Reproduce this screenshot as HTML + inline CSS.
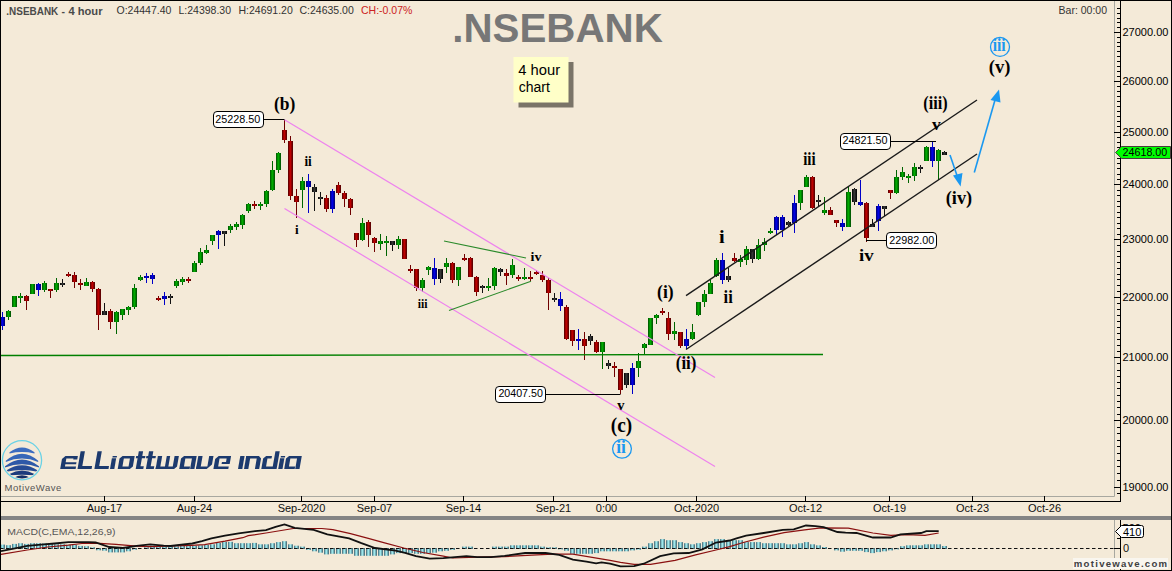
<!DOCTYPE html><html><head><meta charset="utf-8"><title>NSEBANK</title><style>
html,body{margin:0;padding:0;width:1172px;height:571px;overflow:hidden;background:#F4EAD8;}
svg{position:absolute;left:0;top:0;}
text{font-family:"Liberation Sans",sans-serif;}
.sf{font-family:"Liberation Serif",serif;font-weight:bold;}
</style></head><body>
<svg width="1172" height="571" viewBox="0 0 1172 571">
<defs>
<linearGradient id="grg" x1="0" x2="1" y1="0" y2="0"><stop offset="0" stop-color="#004a00"/><stop offset="0.45" stop-color="#00b400"/><stop offset="1" stop-color="#004a00"/></linearGradient>
<linearGradient id="grr" x1="0" x2="1" y1="0" y2="0"><stop offset="0" stop-color="#4a0000"/><stop offset="0.45" stop-color="#c80000"/><stop offset="1" stop-color="#4a0000"/></linearGradient>
<linearGradient id="grb" x1="0" x2="1" y1="0" y2="0"><stop offset="0" stop-color="#00006a"/><stop offset="0.45" stop-color="#0000f0"/><stop offset="1" stop-color="#00006a"/></linearGradient>
<linearGradient id="grk" x1="0" x2="1" y1="0" y2="0"><stop offset="0" stop-color="#000000"/><stop offset="0.45" stop-color="#3a3a3a"/><stop offset="1" stop-color="#000000"/></linearGradient>
<linearGradient id="grh" x1="0" x2="1" y1="0" y2="0"><stop offset="0" stop-color="#3e5f6c"/><stop offset="0.45" stop-color="#a6f6fa"/><stop offset="1" stop-color="#3e5f6c"/></linearGradient>
</defs>
<rect x="0" y="0" width="1172" height="571" fill="#F4EAD8"/>
<line x1="2.5" y1="312" x2="2.5" y2="330" stroke="#0000c8" stroke-width="1"/>
<rect x="0" y="317" width="5" height="9" fill="url(#grb)"/>
<line x1="8.5" y1="310" x2="8.5" y2="320" stroke="#006400" stroke-width="1"/>
<rect x="6" y="311" width="5" height="6" fill="url(#grg)"/>
<line x1="14.5" y1="296" x2="14.5" y2="307" stroke="#006400" stroke-width="1"/>
<rect x="12" y="296" width="5" height="11" fill="url(#grg)"/>
<line x1="20.5" y1="293" x2="20.5" y2="303" stroke="#006400" stroke-width="1"/>
<rect x="18" y="296" width="5" height="2" fill="url(#grg)"/>
<line x1="26.5" y1="295" x2="26.5" y2="310" stroke="#6e0000" stroke-width="1"/>
<rect x="24" y="296" width="5" height="5" fill="url(#grr)"/>
<line x1="32.5" y1="284" x2="32.5" y2="294" stroke="#006400" stroke-width="1"/>
<rect x="30" y="284" width="5" height="10" fill="url(#grg)"/>
<line x1="38.5" y1="283" x2="38.5" y2="296" stroke="#0000c8" stroke-width="1"/>
<rect x="36" y="284" width="5" height="6" fill="url(#grb)"/>
<line x1="44.5" y1="281" x2="44.5" y2="292" stroke="#006400" stroke-width="1"/>
<rect x="42" y="283" width="5" height="7" fill="url(#grg)"/>
<line x1="50.5" y1="289" x2="50.5" y2="298" stroke="#6e0000" stroke-width="1"/>
<rect x="48" y="289" width="5" height="2" fill="url(#grr)"/>
<line x1="56.5" y1="278" x2="56.5" y2="292" stroke="#006400" stroke-width="1"/>
<rect x="54" y="283" width="5" height="7" fill="url(#grg)"/>
<line x1="62.5" y1="279" x2="62.5" y2="287" stroke="#111111" stroke-width="1"/>
<rect x="60" y="283" width="5" height="2" fill="url(#grk)"/>
<line x1="68.5" y1="272" x2="68.5" y2="277" stroke="#6e0000" stroke-width="1"/>
<rect x="66" y="274" width="5" height="2" fill="url(#grr)"/>
<line x1="74.5" y1="272" x2="74.5" y2="288" stroke="#6e0000" stroke-width="1"/>
<rect x="72" y="275" width="5" height="7" fill="url(#grr)"/>
<line x1="80.5" y1="279" x2="80.5" y2="290" stroke="#6e0000" stroke-width="1"/>
<rect x="78" y="283" width="5" height="2" fill="url(#grr)"/>
<line x1="86.5" y1="278" x2="86.5" y2="286" stroke="#006400" stroke-width="1"/>
<rect x="84" y="282" width="5" height="4" fill="url(#grg)"/>
<line x1="92.5" y1="281" x2="92.5" y2="292" stroke="#6e0000" stroke-width="1"/>
<rect x="90" y="282" width="5" height="7" fill="url(#grr)"/>
<line x1="98.5" y1="288" x2="98.5" y2="330" stroke="#6e0000" stroke-width="1"/>
<rect x="96" y="289" width="5" height="26" fill="url(#grr)"/>
<line x1="104.5" y1="303" x2="104.5" y2="315" stroke="#111111" stroke-width="1"/>
<rect x="102" y="311" width="5" height="4" fill="url(#grk)"/>
<line x1="110.5" y1="309" x2="110.5" y2="329" stroke="#6e0000" stroke-width="1"/>
<rect x="108" y="311" width="5" height="11" fill="url(#grr)"/>
<line x1="116.5" y1="311" x2="116.5" y2="334" stroke="#006400" stroke-width="1"/>
<rect x="114" y="312" width="5" height="10" fill="url(#grg)"/>
<line x1="122.5" y1="309" x2="122.5" y2="320" stroke="#006400" stroke-width="1"/>
<rect x="120" y="309" width="5" height="6" fill="url(#grg)"/>
<line x1="128.5" y1="306" x2="128.5" y2="315" stroke="#006400" stroke-width="1"/>
<rect x="126" y="307" width="5" height="3" fill="url(#grg)"/>
<line x1="134.5" y1="284" x2="134.5" y2="309" stroke="#006400" stroke-width="1"/>
<rect x="132" y="288" width="5" height="19" fill="url(#grg)"/>
<line x1="140.5" y1="275" x2="140.5" y2="281" stroke="#006400" stroke-width="1"/>
<rect x="138" y="277" width="5" height="3" fill="url(#grg)"/>
<line x1="146.5" y1="273" x2="146.5" y2="283" stroke="#0000c8" stroke-width="1"/>
<rect x="144" y="276" width="5" height="2" fill="url(#grb)"/>
<line x1="152.5" y1="273" x2="152.5" y2="284" stroke="#0000c8" stroke-width="1"/>
<rect x="150" y="275" width="5" height="4" fill="url(#grb)"/>
<line x1="158.5" y1="296" x2="158.5" y2="301" stroke="#6e0000" stroke-width="1"/>
<rect x="156" y="298" width="5" height="2" fill="url(#grr)"/>
<line x1="164.5" y1="292" x2="164.5" y2="305" stroke="#0000c8" stroke-width="1"/>
<rect x="162" y="296" width="5" height="3" fill="url(#grb)"/>
<line x1="170.5" y1="294" x2="170.5" y2="304" stroke="#111111" stroke-width="1"/>
<rect x="168" y="296" width="5" height="2" fill="url(#grk)"/>
<line x1="176.5" y1="279" x2="176.5" y2="288" stroke="#006400" stroke-width="1"/>
<rect x="174" y="281" width="5" height="5" fill="url(#grg)"/>
<line x1="182.5" y1="277" x2="182.5" y2="285" stroke="#006400" stroke-width="1"/>
<rect x="180" y="279" width="5" height="3" fill="url(#grg)"/>
<line x1="188.5" y1="277" x2="188.5" y2="283" stroke="#6e0000" stroke-width="1"/>
<rect x="186" y="279" width="5" height="2" fill="url(#grr)"/>
<line x1="194.5" y1="261" x2="194.5" y2="272" stroke="#006400" stroke-width="1"/>
<rect x="192" y="263" width="5" height="9" fill="url(#grg)"/>
<line x1="200.5" y1="248" x2="200.5" y2="265" stroke="#006400" stroke-width="1"/>
<rect x="198" y="252" width="5" height="11" fill="url(#grg)"/>
<line x1="206.5" y1="245" x2="206.5" y2="254" stroke="#006400" stroke-width="1"/>
<rect x="204" y="250" width="5" height="3" fill="url(#grg)"/>
<line x1="212.5" y1="235" x2="212.5" y2="245" stroke="#006400" stroke-width="1"/>
<rect x="210" y="235" width="5" height="6" fill="url(#grg)"/>
<line x1="218.5" y1="230" x2="218.5" y2="249" stroke="#0000c8" stroke-width="1"/>
<rect x="216" y="231" width="5" height="4" fill="url(#grb)"/>
<line x1="224.5" y1="231" x2="224.5" y2="246" stroke="#111111" stroke-width="1"/>
<rect x="222" y="231" width="5" height="3" fill="url(#grk)"/>
<line x1="230.5" y1="224" x2="230.5" y2="233" stroke="#006400" stroke-width="1"/>
<rect x="228" y="226" width="5" height="4" fill="url(#grg)"/>
<line x1="236.5" y1="222" x2="236.5" y2="230" stroke="#006400" stroke-width="1"/>
<rect x="234" y="224" width="5" height="3" fill="url(#grg)"/>
<line x1="242.5" y1="214" x2="242.5" y2="229" stroke="#006400" stroke-width="1"/>
<rect x="240" y="215" width="5" height="10" fill="url(#grg)"/>
<line x1="248.5" y1="203" x2="248.5" y2="213" stroke="#006400" stroke-width="1"/>
<rect x="246" y="204" width="5" height="7" fill="url(#grg)"/>
<line x1="254.5" y1="201" x2="254.5" y2="209" stroke="#6e0000" stroke-width="1"/>
<rect x="252" y="204" width="5" height="2" fill="url(#grr)"/>
<line x1="260.5" y1="202" x2="260.5" y2="210" stroke="#006400" stroke-width="1"/>
<rect x="258" y="204" width="5" height="2" fill="url(#grg)"/>
<line x1="266.5" y1="190" x2="266.5" y2="207" stroke="#006400" stroke-width="1"/>
<rect x="264" y="191" width="5" height="13" fill="url(#grg)"/>
<line x1="272.5" y1="161" x2="272.5" y2="191" stroke="#006400" stroke-width="1"/>
<rect x="270" y="170" width="5" height="20" fill="url(#grg)"/>
<line x1="278.5" y1="152" x2="278.5" y2="173" stroke="#006400" stroke-width="1"/>
<rect x="276" y="153" width="5" height="17" fill="url(#grg)"/>
<line x1="284.5" y1="120" x2="284.5" y2="143" stroke="#6e0000" stroke-width="1"/>
<rect x="282" y="130" width="5" height="10" fill="url(#grr)"/>
<line x1="290.5" y1="136" x2="290.5" y2="200" stroke="#6e0000" stroke-width="1"/>
<rect x="288" y="141" width="5" height="55" fill="url(#grr)"/>
<line x1="296.5" y1="189" x2="296.5" y2="218" stroke="#6e0000" stroke-width="1"/>
<rect x="294" y="196" width="5" height="6" fill="url(#grr)"/>
<line x1="302.5" y1="177" x2="302.5" y2="208" stroke="#006400" stroke-width="1"/>
<rect x="300" y="181" width="5" height="9" fill="url(#grg)"/>
<line x1="308.5" y1="174" x2="308.5" y2="213" stroke="#0000c8" stroke-width="1"/>
<rect x="306" y="181" width="5" height="6" fill="url(#grb)"/>
<line x1="314.5" y1="184" x2="314.5" y2="211" stroke="#111111" stroke-width="1"/>
<rect x="312" y="187" width="5" height="5" fill="url(#grk)"/>
<line x1="320.5" y1="192" x2="320.5" y2="205" stroke="#111111" stroke-width="1"/>
<rect x="318" y="197" width="5" height="2" fill="url(#grk)"/>
<line x1="326.5" y1="195" x2="326.5" y2="212" stroke="#6e0000" stroke-width="1"/>
<rect x="324" y="198" width="5" height="11" fill="url(#grr)"/>
<line x1="332.5" y1="189" x2="332.5" y2="213" stroke="#0000c8" stroke-width="1"/>
<rect x="330" y="191" width="5" height="18" fill="url(#grb)"/>
<line x1="338.5" y1="182" x2="338.5" y2="195" stroke="#6e0000" stroke-width="1"/>
<rect x="336" y="185" width="5" height="8" fill="url(#grr)"/>
<line x1="344.5" y1="191" x2="344.5" y2="207" stroke="#6e0000" stroke-width="1"/>
<rect x="342" y="193" width="5" height="6" fill="url(#grr)"/>
<line x1="350.5" y1="198" x2="350.5" y2="215" stroke="#6e0000" stroke-width="1"/>
<rect x="348" y="199" width="5" height="9" fill="url(#grr)"/>
<line x1="356.5" y1="233" x2="356.5" y2="247" stroke="#6e0000" stroke-width="1"/>
<rect x="354" y="233" width="5" height="7" fill="url(#grr)"/>
<line x1="362.5" y1="218" x2="362.5" y2="241" stroke="#006400" stroke-width="1"/>
<rect x="360" y="223" width="5" height="17" fill="url(#grg)"/>
<line x1="368.5" y1="220" x2="368.5" y2="247" stroke="#6e0000" stroke-width="1"/>
<rect x="366" y="222" width="5" height="13" fill="url(#grr)"/>
<line x1="374.5" y1="237" x2="374.5" y2="252" stroke="#6e0000" stroke-width="1"/>
<rect x="372" y="238" width="5" height="5" fill="url(#grr)"/>
<line x1="380.5" y1="234" x2="380.5" y2="250" stroke="#006400" stroke-width="1"/>
<rect x="378" y="241" width="5" height="3" fill="url(#grg)"/>
<line x1="386.5" y1="236" x2="386.5" y2="256" stroke="#006400" stroke-width="1"/>
<rect x="384" y="241" width="5" height="2" fill="url(#grg)"/>
<line x1="392.5" y1="241" x2="392.5" y2="251" stroke="#111111" stroke-width="1"/>
<rect x="390" y="241" width="5" height="4" fill="url(#grk)"/>
<line x1="398.5" y1="236" x2="398.5" y2="249" stroke="#006400" stroke-width="1"/>
<rect x="396" y="239" width="5" height="6" fill="url(#grg)"/>
<line x1="404.5" y1="239" x2="404.5" y2="259" stroke="#6e0000" stroke-width="1"/>
<rect x="402" y="239" width="5" height="20" fill="url(#grr)"/>
<line x1="410.5" y1="265" x2="410.5" y2="273" stroke="#6e0000" stroke-width="1"/>
<rect x="408" y="269" width="5" height="2" fill="url(#grr)"/>
<line x1="416.5" y1="269" x2="416.5" y2="291" stroke="#6e0000" stroke-width="1"/>
<rect x="414" y="269" width="5" height="19" fill="url(#grr)"/>
<line x1="422.5" y1="278" x2="422.5" y2="292" stroke="#006400" stroke-width="1"/>
<rect x="420" y="280" width="5" height="8" fill="url(#grg)"/>
<line x1="428.5" y1="266" x2="428.5" y2="275" stroke="#006400" stroke-width="1"/>
<rect x="426" y="267" width="5" height="3" fill="url(#grg)"/>
<line x1="434.5" y1="258" x2="434.5" y2="285" stroke="#0000c8" stroke-width="1"/>
<rect x="432" y="268" width="5" height="11" fill="url(#grb)"/>
<line x1="440.5" y1="269" x2="440.5" y2="283" stroke="#111111" stroke-width="1"/>
<rect x="438" y="269" width="5" height="10" fill="url(#grk)"/>
<line x1="446.5" y1="258" x2="446.5" y2="273" stroke="#006400" stroke-width="1"/>
<rect x="444" y="263" width="5" height="4" fill="url(#grg)"/>
<line x1="452.5" y1="262" x2="452.5" y2="283" stroke="#6e0000" stroke-width="1"/>
<rect x="450" y="263" width="5" height="17" fill="url(#grr)"/>
<line x1="458.5" y1="267" x2="458.5" y2="286" stroke="#006400" stroke-width="1"/>
<rect x="456" y="267" width="5" height="13" fill="url(#grg)"/>
<line x1="464.5" y1="254" x2="464.5" y2="261" stroke="#6e0000" stroke-width="1"/>
<rect x="462" y="258" width="5" height="2" fill="url(#grr)"/>
<line x1="470.5" y1="257" x2="470.5" y2="277" stroke="#6e0000" stroke-width="1"/>
<rect x="468" y="258" width="5" height="19" fill="url(#grr)"/>
<line x1="476.5" y1="276" x2="476.5" y2="296" stroke="#6e0000" stroke-width="1"/>
<rect x="474" y="277" width="5" height="15" fill="url(#grr)"/>
<line x1="482.5" y1="285" x2="482.5" y2="293" stroke="#111111" stroke-width="1"/>
<rect x="480" y="286" width="5" height="2" fill="url(#grk)"/>
<line x1="488.5" y1="278" x2="488.5" y2="291" stroke="#006400" stroke-width="1"/>
<rect x="486" y="286" width="5" height="2" fill="url(#grg)"/>
<line x1="494.5" y1="267" x2="494.5" y2="290" stroke="#006400" stroke-width="1"/>
<rect x="492" y="268" width="5" height="18" fill="url(#grg)"/>
<line x1="500.5" y1="268" x2="500.5" y2="276" stroke="#111111" stroke-width="1"/>
<rect x="498" y="269" width="5" height="3" fill="url(#grk)"/>
<line x1="506.5" y1="269" x2="506.5" y2="285" stroke="#6e0000" stroke-width="1"/>
<rect x="504" y="273" width="5" height="3" fill="url(#grr)"/>
<line x1="512.5" y1="259" x2="512.5" y2="278" stroke="#006400" stroke-width="1"/>
<rect x="510" y="265" width="5" height="10" fill="url(#grg)"/>
<line x1="518.5" y1="275" x2="518.5" y2="281" stroke="#6e0000" stroke-width="1"/>
<rect x="516" y="277" width="5" height="2" fill="url(#grr)"/>
<line x1="524.5" y1="268" x2="524.5" y2="280" stroke="#006400" stroke-width="1"/>
<rect x="522" y="277" width="5" height="2" fill="url(#grg)"/>
<line x1="530.5" y1="271" x2="530.5" y2="281" stroke="#6e0000" stroke-width="1"/>
<rect x="528" y="277" width="5" height="2" fill="url(#grr)"/>
<line x1="536.5" y1="270" x2="536.5" y2="275" stroke="#6e0000" stroke-width="1"/>
<rect x="534" y="272" width="5" height="2" fill="url(#grr)"/>
<line x1="542.5" y1="271" x2="542.5" y2="282" stroke="#6e0000" stroke-width="1"/>
<rect x="540" y="275" width="5" height="5" fill="url(#grr)"/>
<line x1="548.5" y1="278" x2="548.5" y2="310" stroke="#6e0000" stroke-width="1"/>
<rect x="546" y="280" width="5" height="13" fill="url(#grr)"/>
<line x1="554.5" y1="293" x2="554.5" y2="302" stroke="#111111" stroke-width="1"/>
<rect x="552" y="298" width="5" height="2" fill="url(#grk)"/>
<line x1="560.5" y1="292" x2="560.5" y2="311" stroke="#0000c8" stroke-width="1"/>
<rect x="558" y="299" width="5" height="7" fill="url(#grb)"/>
<line x1="566.5" y1="305" x2="566.5" y2="340" stroke="#6e0000" stroke-width="1"/>
<rect x="564" y="307" width="5" height="32" fill="url(#grr)"/>
<line x1="572.5" y1="330" x2="572.5" y2="346" stroke="#6e0000" stroke-width="1"/>
<rect x="570" y="330" width="5" height="11" fill="url(#grr)"/>
<line x1="578.5" y1="329" x2="578.5" y2="350" stroke="#0000c8" stroke-width="1"/>
<rect x="576" y="339" width="5" height="2" fill="url(#grb)"/>
<line x1="584.5" y1="332" x2="584.5" y2="360" stroke="#6e0000" stroke-width="1"/>
<rect x="582" y="339" width="5" height="7" fill="url(#grr)"/>
<line x1="590.5" y1="334" x2="590.5" y2="345" stroke="#111111" stroke-width="1"/>
<rect x="588" y="336" width="5" height="5" fill="url(#grk)"/>
<line x1="596.5" y1="340" x2="596.5" y2="353" stroke="#6e0000" stroke-width="1"/>
<rect x="594" y="342" width="5" height="10" fill="url(#grr)"/>
<line x1="602.5" y1="342" x2="602.5" y2="369" stroke="#006400" stroke-width="1"/>
<rect x="600" y="342" width="5" height="10" fill="url(#grg)"/>
<line x1="608.5" y1="360" x2="608.5" y2="369" stroke="#111111" stroke-width="1"/>
<rect x="606" y="363" width="5" height="3" fill="url(#grk)"/>
<line x1="614.5" y1="362" x2="614.5" y2="377" stroke="#6e0000" stroke-width="1"/>
<rect x="612" y="366" width="5" height="2" fill="url(#grr)"/>
<line x1="620.5" y1="369" x2="620.5" y2="394" stroke="#6e0000" stroke-width="1"/>
<rect x="618" y="369" width="5" height="21" fill="url(#grr)"/>
<line x1="626.5" y1="373" x2="626.5" y2="388" stroke="#111111" stroke-width="1"/>
<rect x="624" y="373" width="5" height="12" fill="url(#grk)"/>
<line x1="632.5" y1="363" x2="632.5" y2="394" stroke="#0000c8" stroke-width="1"/>
<rect x="630" y="368" width="5" height="17" fill="url(#grb)"/>
<line x1="638.5" y1="353" x2="638.5" y2="377" stroke="#006400" stroke-width="1"/>
<rect x="636" y="361" width="5" height="7" fill="url(#grg)"/>
<line x1="644.5" y1="343" x2="644.5" y2="354" stroke="#006400" stroke-width="1"/>
<rect x="642" y="344" width="5" height="4" fill="url(#grg)"/>
<line x1="650.5" y1="318" x2="650.5" y2="345" stroke="#006400" stroke-width="1"/>
<rect x="648" y="318" width="5" height="27" fill="url(#grg)"/>
<line x1="656.5" y1="314" x2="656.5" y2="324" stroke="#006400" stroke-width="1"/>
<rect x="654" y="315" width="5" height="3" fill="url(#grg)"/>
<line x1="662.5" y1="308" x2="662.5" y2="315" stroke="#6e0000" stroke-width="1"/>
<rect x="660" y="311" width="5" height="2" fill="url(#grr)"/>
<line x1="668.5" y1="312" x2="668.5" y2="340" stroke="#6e0000" stroke-width="1"/>
<rect x="666" y="318" width="5" height="16" fill="url(#grr)"/>
<line x1="674.5" y1="322" x2="674.5" y2="340" stroke="#006400" stroke-width="1"/>
<rect x="672" y="331" width="5" height="3" fill="url(#grg)"/>
<line x1="680.5" y1="332" x2="680.5" y2="348" stroke="#6e0000" stroke-width="1"/>
<rect x="678" y="332" width="5" height="14" fill="url(#grr)"/>
<line x1="686.5" y1="329" x2="686.5" y2="349" stroke="#0000c8" stroke-width="1"/>
<rect x="684" y="339" width="5" height="7" fill="url(#grb)"/>
<line x1="692.5" y1="324" x2="692.5" y2="340" stroke="#006400" stroke-width="1"/>
<rect x="690" y="332" width="5" height="7" fill="url(#grg)"/>
<line x1="698.5" y1="302" x2="698.5" y2="316" stroke="#006400" stroke-width="1"/>
<rect x="696" y="302" width="5" height="13" fill="url(#grg)"/>
<line x1="704.5" y1="290" x2="704.5" y2="307" stroke="#006400" stroke-width="1"/>
<rect x="702" y="294" width="5" height="8" fill="url(#grg)"/>
<line x1="710.5" y1="280" x2="710.5" y2="294" stroke="#006400" stroke-width="1"/>
<rect x="708" y="283" width="5" height="11" fill="url(#grg)"/>
<line x1="716.5" y1="258" x2="716.5" y2="277" stroke="#006400" stroke-width="1"/>
<rect x="714" y="260" width="5" height="16" fill="url(#grg)"/>
<line x1="722.5" y1="253" x2="722.5" y2="284" stroke="#0000c8" stroke-width="1"/>
<rect x="720" y="260" width="5" height="20" fill="url(#grb)"/>
<line x1="728.5" y1="268" x2="728.5" y2="282" stroke="#111111" stroke-width="1"/>
<rect x="726" y="276" width="5" height="4" fill="url(#grk)"/>
<line x1="734.5" y1="253" x2="734.5" y2="262" stroke="#6e0000" stroke-width="1"/>
<rect x="732" y="258" width="5" height="3" fill="url(#grr)"/>
<line x1="740.5" y1="255" x2="740.5" y2="267" stroke="#006400" stroke-width="1"/>
<rect x="738" y="259" width="5" height="3" fill="url(#grg)"/>
<line x1="746.5" y1="246" x2="746.5" y2="265" stroke="#006400" stroke-width="1"/>
<rect x="744" y="249" width="5" height="11" fill="url(#grg)"/>
<line x1="752.5" y1="249" x2="752.5" y2="263" stroke="#111111" stroke-width="1"/>
<rect x="750" y="249" width="5" height="10" fill="url(#grk)"/>
<line x1="758.5" y1="239" x2="758.5" y2="260" stroke="#006400" stroke-width="1"/>
<rect x="756" y="245" width="5" height="14" fill="url(#grg)"/>
<line x1="764.5" y1="238" x2="764.5" y2="251" stroke="#006400" stroke-width="1"/>
<rect x="762" y="242" width="5" height="3" fill="url(#grg)"/>
<line x1="770.5" y1="228" x2="770.5" y2="234" stroke="#006400" stroke-width="1"/>
<rect x="768" y="231" width="5" height="2" fill="url(#grg)"/>
<line x1="776.5" y1="216" x2="776.5" y2="235" stroke="#0000c8" stroke-width="1"/>
<rect x="774" y="217" width="5" height="13" fill="url(#grb)"/>
<line x1="782.5" y1="215" x2="782.5" y2="237" stroke="#0000c8" stroke-width="1"/>
<rect x="780" y="217" width="5" height="13" fill="url(#grb)"/>
<line x1="788.5" y1="221" x2="788.5" y2="226" stroke="#111111" stroke-width="1"/>
<rect x="786" y="222" width="5" height="3" fill="url(#grk)"/>
<line x1="794.5" y1="195" x2="794.5" y2="233" stroke="#0000c8" stroke-width="1"/>
<rect x="792" y="203" width="5" height="20" fill="url(#grb)"/>
<line x1="800.5" y1="190" x2="800.5" y2="210" stroke="#006400" stroke-width="1"/>
<rect x="798" y="190" width="5" height="13" fill="url(#grg)"/>
<line x1="806.5" y1="175" x2="806.5" y2="187" stroke="#006400" stroke-width="1"/>
<rect x="804" y="177" width="5" height="10" fill="url(#grg)"/>
<line x1="812.5" y1="176" x2="812.5" y2="209" stroke="#6e0000" stroke-width="1"/>
<rect x="810" y="177" width="5" height="31" fill="url(#grr)"/>
<line x1="818.5" y1="195" x2="818.5" y2="207" stroke="#111111" stroke-width="1"/>
<rect x="816" y="200" width="5" height="2" fill="url(#grk)"/>
<line x1="824.5" y1="197" x2="824.5" y2="215" stroke="#006400" stroke-width="1"/>
<rect x="822" y="210" width="5" height="3" fill="url(#grg)"/>
<line x1="830.5" y1="207" x2="830.5" y2="215" stroke="#6e0000" stroke-width="1"/>
<rect x="828" y="210" width="5" height="5" fill="url(#grr)"/>
<line x1="836.5" y1="220" x2="836.5" y2="227" stroke="#6e0000" stroke-width="1"/>
<rect x="834" y="220" width="5" height="3" fill="url(#grr)"/>
<line x1="842.5" y1="219" x2="842.5" y2="231" stroke="#0000c8" stroke-width="1"/>
<rect x="840" y="223" width="5" height="4" fill="url(#grb)"/>
<line x1="848.5" y1="186" x2="848.5" y2="227" stroke="#006400" stroke-width="1"/>
<rect x="846" y="192" width="5" height="35" fill="url(#grg)"/>
<line x1="854.5" y1="188" x2="854.5" y2="205" stroke="#111111" stroke-width="1"/>
<rect x="852" y="189" width="5" height="13" fill="url(#grk)"/>
<line x1="860.5" y1="180" x2="860.5" y2="206" stroke="#0000c8" stroke-width="1"/>
<rect x="858" y="202" width="5" height="3" fill="url(#grb)"/>
<line x1="866.5" y1="202" x2="866.5" y2="242" stroke="#6e0000" stroke-width="1"/>
<rect x="864" y="203" width="5" height="35" fill="url(#grr)"/>
<line x1="872.5" y1="219" x2="872.5" y2="227" stroke="#111111" stroke-width="1"/>
<rect x="870" y="224" width="5" height="3" fill="url(#grk)"/>
<line x1="878.5" y1="204" x2="878.5" y2="231" stroke="#0000c8" stroke-width="1"/>
<rect x="876" y="206" width="5" height="15" fill="url(#grb)"/>
<line x1="884.5" y1="206" x2="884.5" y2="216" stroke="#111111" stroke-width="1"/>
<rect x="882" y="206" width="5" height="3" fill="url(#grk)"/>
<line x1="890.5" y1="190" x2="890.5" y2="199" stroke="#6e0000" stroke-width="1"/>
<rect x="888" y="190" width="5" height="3" fill="url(#grr)"/>
<line x1="896.5" y1="170" x2="896.5" y2="194" stroke="#006400" stroke-width="1"/>
<rect x="894" y="177" width="5" height="16" fill="url(#grg)"/>
<line x1="902.5" y1="167" x2="902.5" y2="180" stroke="#006400" stroke-width="1"/>
<rect x="900" y="172" width="5" height="5" fill="url(#grg)"/>
<line x1="908.5" y1="174" x2="908.5" y2="183" stroke="#006400" stroke-width="1"/>
<rect x="906" y="176" width="5" height="2" fill="url(#grg)"/>
<line x1="914.5" y1="163" x2="914.5" y2="181" stroke="#006400" stroke-width="1"/>
<rect x="912" y="167" width="5" height="9" fill="url(#grg)"/>
<line x1="920.5" y1="165" x2="920.5" y2="173" stroke="#111111" stroke-width="1"/>
<rect x="918" y="167" width="5" height="2" fill="url(#grk)"/>
<line x1="926.5" y1="146" x2="926.5" y2="161" stroke="#006400" stroke-width="1"/>
<rect x="924" y="147" width="5" height="14" fill="url(#grg)"/>
<line x1="932.5" y1="141" x2="932.5" y2="167" stroke="#0000c8" stroke-width="1"/>
<rect x="930" y="147" width="5" height="14" fill="url(#grb)"/>
<line x1="938.5" y1="149" x2="938.5" y2="180" stroke="#006400" stroke-width="1"/>
<rect x="936" y="150" width="5" height="11" fill="url(#grg)"/>
<line x1="944.5" y1="151" x2="944.5" y2="155" stroke="#111111" stroke-width="1"/>
<rect x="942" y="152" width="5" height="3" fill="url(#grk)"/>
<line x1="0" y1="355.5" x2="823" y2="354.5" stroke="#008000" stroke-width="1.4"/>
<line x1="284.5" y1="119.8" x2="715" y2="377.5" stroke="#ee82ee" stroke-width="1.2"/>
<line x1="284.5" y1="208.5" x2="715" y2="466.5" stroke="#ee82ee" stroke-width="1.2"/>
<line x1="444" y1="241" x2="526" y2="258" stroke="#2a8a2a" stroke-width="1.1"/>
<line x1="449" y1="310.6" x2="531" y2="281.2" stroke="#2a8a2a" stroke-width="1.1"/>
<line x1="686" y1="295.7" x2="977" y2="100" stroke="#1a1a1a" stroke-width="1.4"/>
<line x1="686" y1="349.5" x2="977" y2="154" stroke="#1a1a1a" stroke-width="1.4"/>
<line x1="263.5" y1="119.5" x2="284.5" y2="119.5" stroke="#000" stroke-width="1"/>
<rect x="213.5" y="111.5" width="50" height="16" rx="3.5" ry="3.5" fill="#ffffff" stroke="#000" stroke-width="1"/>
<text x="215.30" y="123.0" font-size="10.0" fill="#000" textLength="45.10" lengthAdjust="spacingAndGlyphs">25228.50</text>
<line x1="545.5" y1="394.5" x2="620.5" y2="394.5" stroke="#000" stroke-width="1"/>
<rect x="495.5" y="386.5" width="50" height="16" rx="3.5" ry="3.5" fill="#ffffff" stroke="#000" stroke-width="1"/>
<text x="498.40" y="397.0" font-size="10.0" fill="#000" textLength="44.50" lengthAdjust="spacingAndGlyphs">20407.50</text>
<line x1="890.5" y1="141.5" x2="936" y2="141.5" stroke="#000" stroke-width="1"/>
<rect x="840.5" y="133.5" width="50" height="16" rx="3.5" ry="3.5" fill="#ffffff" stroke="#000" stroke-width="1"/>
<text x="842.40" y="144.0" font-size="10.0" fill="#000" textLength="45.00" lengthAdjust="spacingAndGlyphs">24821.50</text>
<line x1="866" y1="240.5" x2="886.5" y2="240.5" stroke="#000" stroke-width="1"/>
<rect x="886.5" y="232.5" width="50" height="16" rx="3.5" ry="3.5" fill="#ffffff" stroke="#000" stroke-width="1"/>
<text x="889.30" y="244.0" font-size="10.0" fill="#000" textLength="44.90" lengthAdjust="spacingAndGlyphs">22982.00</text>
<line x1="950" y1="155" x2="957.5" y2="177" stroke="#1a98f0" stroke-width="1.6"/>
<polygon points="960.6,186.5 953,175.5 962.5,173" fill="#1a98f0"/>
<line x1="974.3" y1="172.5" x2="995" y2="100" stroke="#1a98f0" stroke-width="1.6"/>
<polygon points="999,89.5 990.5,100 1000.5,102.5" fill="#1a98f0"/>
<circle cx="622" cy="448.8" r="9.4" fill="none" stroke="#1a98f0" stroke-width="1.3"/>
<circle cx="1000" cy="46.9" r="9.5" fill="none" stroke="#1a98f0" stroke-width="1.3"/>
<text class="sf" style="font-weight:bold" transform="translate(274.01 110.19) scale(0.892 1)" x="0" y="0" font-size="19.56" fill="#000">(b)</text>
<text class="sf" style="font-weight:bold" transform="translate(295.04 234.10) scale(1.036 1)" x="0" y="0" font-size="12.61" fill="#000">i</text>
<text class="sf" style="font-weight:bold" transform="translate(304.44 165.50) scale(0.950 1)" x="0" y="0" font-size="13.77" fill="#000">ii</text>
<text class="sf" style="font-weight:bold" transform="translate(417.76 308.30) scale(0.872 1)" x="0" y="0" font-size="13.48" fill="#000">iii</text>
<text class="sf" style="font-weight:bold" transform="translate(530.52 261.37) scale(1.080 1)" x="0" y="0" font-size="13.00" fill="#000">iv</text>
<text class="sf" style="font-weight:bold" transform="translate(617.20 410.06) scale(1.046 1)" x="0" y="0" font-size="13.76" fill="#000">v</text>
<text class="sf" style="font-weight:bold" transform="translate(610.74 431.50) scale(0.961 1)" x="0" y="0" font-size="20.00" fill="#000">(c)</text>
<text class="sf" style="font-weight:bold" transform="translate(657.11 298.41) scale(0.923 1)" x="0" y="0" font-size="19.00" fill="#000">(i)</text>
<text class="sf" style="font-weight:bold" transform="translate(675.84 368.87) scale(0.856 1)" x="0" y="0" font-size="19.67" fill="#000">(ii)</text>
<text class="sf" style="font-weight:bold" transform="translate(719.09 242.90) scale(1.145 1)" x="0" y="0" font-size="17.83" fill="#000">i</text>
<text class="sf" style="font-weight:bold" transform="translate(723.57 303.30) scale(0.871 1)" x="0" y="0" font-size="18.99" fill="#000">ii</text>
<text class="sf" style="font-weight:bold" transform="translate(803.20 165.10) scale(0.821 1)" x="0" y="0" font-size="18.26" fill="#000">iii</text>
<text class="sf" style="font-weight:bold" transform="translate(858.92 260.92) scale(1.070 1)" x="0" y="0" font-size="17.57" fill="#000">iv</text>
<text class="sf" style="font-weight:bold" transform="translate(923.37 109.26) scale(0.841 1)" x="0" y="0" font-size="19.22" fill="#000">(iii)</text>
<text class="sf" style="font-weight:bold" transform="translate(931.90 129.94) scale(1.079 1)" x="0" y="0" font-size="16.13" fill="#000">v</text>
<text class="sf" style="font-weight:bold" transform="translate(945.78 204.09) scale(0.954 1)" x="0" y="0" font-size="19.11" fill="#000">(iv)</text>
<text class="sf" style="font-weight:bold" transform="translate(988.87 73.28) scale(0.992 1)" x="0" y="0" font-size="18.67" fill="#000">(v)</text>
<text class="sf" style="font-weight:bold" transform="translate(616.25 453.10) scale(0.919 1)" x="0" y="0" font-size="18.84" fill="#1a98f0">ii</text>
<text class="sf" style="font-weight:bold" transform="translate(992.69 51.30) scale(0.805 1)" x="0" y="0" font-size="19.42" fill="#1a98f0">iii</text>
<text x="452.3" y="42" font-size="40.3" font-weight="bold" fill="#777777">.NSEBANK</text>
<rect x="518.5" y="62" width="55" height="45.5" fill="#7a7468"/>
<rect x="513.5" y="57" width="55" height="45.5" fill="#ffffc8"/>
<text x="518.3" y="75" font-size="14" fill="#000" textLength="41.8" lengthAdjust="spacingAndGlyphs">4 hour</text>
<text x="518.8" y="92" font-size="14" fill="#000">chart</text>
<text x="6.3" y="15" font-size="10.4" font-weight="bold" fill="#4a4a4a" textLength="52" lengthAdjust="spacingAndGlyphs">.NSEBANK</text>
<text x="61.5" y="15" font-size="10.4" font-weight="bold" fill="#4a4a4a">-</text>
<text x="68.5" y="15" font-size="10.4" font-weight="bold" fill="#4a4a4a" textLength="34" lengthAdjust="spacingAndGlyphs">4 hour</text>
<text x="116.5" y="13.5" font-size="10.5" fill="#333">O:24447.40</text>
<text x="178.5" y="13.5" font-size="10.5" fill="#333">L:24398.30</text>
<text x="238.5" y="13.5" font-size="10.5" fill="#333">H:24691.20</text>
<text x="299.5" y="13.5" font-size="10.5" fill="#333">C:24635.00</text>
<text x="361" y="13.5" font-size="10.5" fill="#cc2222">CH:-0.07%</text>
<text x="1107" y="13.5" font-size="10.5" text-anchor="end" fill="#333">Bar: 00:00</text>
<clipPath id="lc"><circle cx="22" cy="460.2" r="18.3"/></clipPath>
<g clip-path="url(#lc)">
<path d="M9.50 452.30 Q22 442.50 34.50 452.30 L34.50 453.40 Q22 450.60 9.50 453.40 Z" fill="#3c6cc0"/>
<path d="M5.80 460.80 Q22 446.60 38.20 460.80 L38.20 461.90 Q22 455.10 5.80 461.90 Z" fill="#3666b8"/>
<path d="M5.00 466.30 Q22 452.70 39.00 466.30 L39.00 467.40 Q22 461.20 5.00 467.40 Z" fill="#2e59a8"/>
<path d="M6.20 470.60 Q22 460.00 37.80 470.60 L37.80 471.70 Q22 468.10 6.20 471.70 Z" fill="#264b94"/>
<path d="M9.00 474.20 Q22 467.00 35.00 474.20 L35.00 475.30 Q22 474.30 9.00 475.30 Z" fill="#1c3b7c"/>
<path d="M13.40 478.00 Q22 472.40 30.60 478.00 L30.60 479.10 Q22 480.10 13.40 479.10 Z" fill="#142e66"/>
</g>
<circle cx="22" cy="460.2" r="19.6" fill="none" stroke="#6ad2e6" stroke-width="1.3"/>
<text x="4.5" y="491" font-size="9.5" fill="#555" letter-spacing="0.55">MotiveWave</text>
<polygon points="65.49,456.00 77.89,456.00 77.26,459.60 73.26,459.60 73.43,458.60 66.33,458.60 65.68,462.30 76.48,462.30 76.13,464.30 65.33,464.30 64.96,466.40 76.06,466.40 75.60,469.00 60.20,469.00 61.96,459.00" fill="#1c3a6e"/><polygon points="80.62,451.30 84.92,451.30 82.31,466.10 92.11,466.10 91.60,469.00 77.50,469.00" fill="#1c3a6e"/><polygon points="97.52,451.30 101.82,451.30 99.21,466.10 109.01,466.10 108.50,469.00 94.40,469.00" fill="#1c3a6e"/><polygon points="112.69,456.00 116.99,456.00 116.73,457.50 112.43,457.50" fill="#1c3a6e"/><polygon points="111.89,458.30 116.19,458.30 114.30,469.00 110.00,469.00" fill="#1c3a6e"/><path d="M122.59 456.00 L134.69 456.00 L132.86 466.40 L129.80 469.00 L117.70 469.00 L119.53 458.60 Z M123.83 458.60 L129.93 458.60 L128.56 466.40 L122.46 466.40 Z" fill="#1c3a6e" fill-rule="evenodd"/><polygon points="138.82,451.30 143.12,451.30 142.29,456.00 145.39,456.00 145.00,458.20 141.90,458.20 140.48,466.30 143.78,466.30 143.30,469.00 135.70,469.00 137.60,458.20 135.80,458.20 136.19,456.00 137.99,456.00" fill="#1c3a6e"/><polygon points="149.02,451.30 153.32,451.30 152.49,456.00 155.89,456.00 155.50,458.20 152.10,458.20 150.68,466.30 154.28,466.30 153.80,469.00 145.90,469.00 147.80,458.20 146.00,458.20 146.39,456.00 148.19,456.00" fill="#1c3a6e"/><polygon points="157.89,456.00 162.19,456.00 159.90,469.00 155.60,469.00" fill="#1c3a6e"/><polygon points="166.79,456.00 170.19,456.00 168.08,468.00 164.68,468.00" fill="#1c3a6e"/><polygon points="174.59,456.00 178.89,456.00 177.04,466.50 174.10,469.00 155.60,469.00 156.06,466.40 172.76,466.40" fill="#1c3a6e"/><polygon points="184.09,456.00 196.69,456.00 194.40,469.00 190.10,469.00 191.93,458.60 185.33,458.60 183.96,466.40 190.06,466.40 189.60,469.00 179.20,469.00 181.03,458.60" fill="#1c3a6e"/><polygon points="198.29,456.00 202.59,456.00 200.30,469.00 196.00,469.00" fill="#1c3a6e"/><polygon points="209.19,456.00 213.49,456.00 211.99,464.50 206.70,469.00 196.00,469.00 196.46,466.40 207.36,466.40" fill="#1c3a6e"/><polygon points="218.69,456.00 231.09,456.00 229.68,464.00 221.58,464.00 221.95,461.90 226.05,461.90 226.63,458.60 219.53,458.60 218.16,466.40 228.76,466.40 228.30,469.00 213.40,469.00 215.16,459.00" fill="#1c3a6e"/><polygon points="240.29,456.00 244.59,456.00 242.30,469.00 238.00,469.00" fill="#1c3a6e"/><polygon points="246.29,456.00 250.59,456.00 248.30,469.00 244.00,469.00" fill="#1c3a6e"/><polygon points="246.29,456.00 258.99,456.00 261.05,458.50 259.20,469.00 254.90,469.00 256.73,458.60 245.83,458.60" fill="#1c3a6e"/><polygon points="266.19,456.00 271.99,456.00 271.53,458.60 267.43,458.60 266.06,466.40 272.76,466.40 275.42,451.30 279.72,451.30 276.60,469.00 261.30,469.00 263.13,458.60" fill="#1c3a6e"/><polygon points="280.89,456.00 285.19,456.00 284.93,457.50 280.63,457.50" fill="#1c3a6e"/><polygon points="280.09,458.30 284.39,458.30 282.50,469.00 278.20,469.00" fill="#1c3a6e"/><polygon points="289.09,456.00 301.79,456.00 299.50,469.00 295.20,469.00 297.03,458.60 290.33,458.60 288.96,466.40 295.16,466.40 294.70,469.00 284.20,469.00 286.03,458.60" fill="#1c3a6e"/>
<line x1="1114.5" y1="0" x2="1114.5" y2="496.5" stroke="#a8a8a0" stroke-width="1"/>
<line x1="0" y1="496.5" x2="1114.5" y2="496.5" stroke="#a8a8a0" stroke-width="1"/>
<line x1="1120.5" y1="0" x2="1120.5" y2="502" stroke="#000" stroke-width="1"/>
<line x1="0" y1="501.5" x2="1121" y2="501.5" stroke="#000" stroke-width="1"/>
<line x1="1117" y1="493.5" x2="1120" y2="493.5" stroke="#000" stroke-width="1"/>
<line x1="1114" y1="487.5" x2="1120" y2="487.5" stroke="#000" stroke-width="1"/>
<text x="1122.5" y="491.0" font-size="11" fill="#000">19000.00</text>
<line x1="1117" y1="480.5" x2="1120" y2="480.5" stroke="#000" stroke-width="1"/>
<line x1="1117" y1="473.5" x2="1120" y2="473.5" stroke="#000" stroke-width="1"/>
<line x1="1117" y1="466.5" x2="1120" y2="466.5" stroke="#000" stroke-width="1"/>
<line x1="1117" y1="460.5" x2="1120" y2="460.5" stroke="#000" stroke-width="1"/>
<line x1="1117" y1="453.5" x2="1120" y2="453.5" stroke="#000" stroke-width="1"/>
<line x1="1117" y1="446.5" x2="1120" y2="446.5" stroke="#000" stroke-width="1"/>
<line x1="1117" y1="440.5" x2="1120" y2="440.5" stroke="#000" stroke-width="1"/>
<line x1="1117" y1="433.5" x2="1120" y2="433.5" stroke="#000" stroke-width="1"/>
<line x1="1117" y1="427.5" x2="1120" y2="427.5" stroke="#000" stroke-width="1"/>
<line x1="1114" y1="420.5" x2="1120" y2="420.5" stroke="#000" stroke-width="1"/>
<text x="1122.5" y="424.0" font-size="11" fill="#000">20000.00</text>
<line x1="1117" y1="414.5" x2="1120" y2="414.5" stroke="#000" stroke-width="1"/>
<line x1="1117" y1="407.5" x2="1120" y2="407.5" stroke="#000" stroke-width="1"/>
<line x1="1117" y1="401.5" x2="1120" y2="401.5" stroke="#000" stroke-width="1"/>
<line x1="1117" y1="395.5" x2="1120" y2="395.5" stroke="#000" stroke-width="1"/>
<line x1="1117" y1="388.5" x2="1120" y2="388.5" stroke="#000" stroke-width="1"/>
<line x1="1117" y1="382.5" x2="1120" y2="382.5" stroke="#000" stroke-width="1"/>
<line x1="1117" y1="376.5" x2="1120" y2="376.5" stroke="#000" stroke-width="1"/>
<line x1="1117" y1="370.5" x2="1120" y2="370.5" stroke="#000" stroke-width="1"/>
<line x1="1117" y1="363.5" x2="1120" y2="363.5" stroke="#000" stroke-width="1"/>
<line x1="1114" y1="357.5" x2="1120" y2="357.5" stroke="#000" stroke-width="1"/>
<text x="1122.5" y="361.0" font-size="11" fill="#000">21000.00</text>
<line x1="1117" y1="351.5" x2="1120" y2="351.5" stroke="#000" stroke-width="1"/>
<line x1="1117" y1="345.5" x2="1120" y2="345.5" stroke="#000" stroke-width="1"/>
<line x1="1117" y1="339.5" x2="1120" y2="339.5" stroke="#000" stroke-width="1"/>
<line x1="1117" y1="333.5" x2="1120" y2="333.5" stroke="#000" stroke-width="1"/>
<line x1="1117" y1="327.5" x2="1120" y2="327.5" stroke="#000" stroke-width="1"/>
<line x1="1117" y1="321.5" x2="1120" y2="321.5" stroke="#000" stroke-width="1"/>
<line x1="1117" y1="315.5" x2="1120" y2="315.5" stroke="#000" stroke-width="1"/>
<line x1="1117" y1="309.5" x2="1120" y2="309.5" stroke="#000" stroke-width="1"/>
<line x1="1117" y1="303.5" x2="1120" y2="303.5" stroke="#000" stroke-width="1"/>
<line x1="1114" y1="297.5" x2="1120" y2="297.5" stroke="#000" stroke-width="1"/>
<text x="1122.5" y="301.0" font-size="11" fill="#000">22000.00</text>
<line x1="1117" y1="291.5" x2="1120" y2="291.5" stroke="#000" stroke-width="1"/>
<line x1="1117" y1="285.5" x2="1120" y2="285.5" stroke="#000" stroke-width="1"/>
<line x1="1117" y1="279.5" x2="1120" y2="279.5" stroke="#000" stroke-width="1"/>
<line x1="1117" y1="274.5" x2="1120" y2="274.5" stroke="#000" stroke-width="1"/>
<line x1="1117" y1="268.5" x2="1120" y2="268.5" stroke="#000" stroke-width="1"/>
<line x1="1117" y1="262.5" x2="1120" y2="262.5" stroke="#000" stroke-width="1"/>
<line x1="1117" y1="256.5" x2="1120" y2="256.5" stroke="#000" stroke-width="1"/>
<line x1="1117" y1="251.5" x2="1120" y2="251.5" stroke="#000" stroke-width="1"/>
<line x1="1117" y1="245.5" x2="1120" y2="245.5" stroke="#000" stroke-width="1"/>
<line x1="1114" y1="239.5" x2="1120" y2="239.5" stroke="#000" stroke-width="1"/>
<text x="1122.5" y="243.0" font-size="11" fill="#000">23000.00</text>
<line x1="1117" y1="234.5" x2="1120" y2="234.5" stroke="#000" stroke-width="1"/>
<line x1="1117" y1="228.5" x2="1120" y2="228.5" stroke="#000" stroke-width="1"/>
<line x1="1117" y1="223.5" x2="1120" y2="223.5" stroke="#000" stroke-width="1"/>
<line x1="1117" y1="217.5" x2="1120" y2="217.5" stroke="#000" stroke-width="1"/>
<line x1="1117" y1="212.5" x2="1120" y2="212.5" stroke="#000" stroke-width="1"/>
<line x1="1117" y1="206.5" x2="1120" y2="206.5" stroke="#000" stroke-width="1"/>
<line x1="1117" y1="201.5" x2="1120" y2="201.5" stroke="#000" stroke-width="1"/>
<line x1="1117" y1="195.5" x2="1120" y2="195.5" stroke="#000" stroke-width="1"/>
<line x1="1117" y1="190.5" x2="1120" y2="190.5" stroke="#000" stroke-width="1"/>
<line x1="1114" y1="184.5" x2="1120" y2="184.5" stroke="#000" stroke-width="1"/>
<text x="1122.5" y="188.0" font-size="11" fill="#000">24000.00</text>
<line x1="1117" y1="179.5" x2="1120" y2="179.5" stroke="#000" stroke-width="1"/>
<line x1="1117" y1="174.5" x2="1120" y2="174.5" stroke="#000" stroke-width="1"/>
<line x1="1117" y1="168.5" x2="1120" y2="168.5" stroke="#000" stroke-width="1"/>
<line x1="1117" y1="163.5" x2="1120" y2="163.5" stroke="#000" stroke-width="1"/>
<line x1="1117" y1="158.5" x2="1120" y2="158.5" stroke="#000" stroke-width="1"/>
<line x1="1117" y1="152.5" x2="1120" y2="152.5" stroke="#000" stroke-width="1"/>
<line x1="1117" y1="147.5" x2="1120" y2="147.5" stroke="#000" stroke-width="1"/>
<line x1="1117" y1="142.5" x2="1120" y2="142.5" stroke="#000" stroke-width="1"/>
<line x1="1117" y1="137.5" x2="1120" y2="137.5" stroke="#000" stroke-width="1"/>
<line x1="1114" y1="132.5" x2="1120" y2="132.5" stroke="#000" stroke-width="1"/>
<text x="1122.5" y="136.0" font-size="11" fill="#000">25000.00</text>
<line x1="1117" y1="126.5" x2="1120" y2="126.5" stroke="#000" stroke-width="1"/>
<line x1="1117" y1="121.5" x2="1120" y2="121.5" stroke="#000" stroke-width="1"/>
<line x1="1117" y1="116.5" x2="1120" y2="116.5" stroke="#000" stroke-width="1"/>
<line x1="1117" y1="111.5" x2="1120" y2="111.5" stroke="#000" stroke-width="1"/>
<line x1="1117" y1="106.5" x2="1120" y2="106.5" stroke="#000" stroke-width="1"/>
<line x1="1117" y1="101.5" x2="1120" y2="101.5" stroke="#000" stroke-width="1"/>
<line x1="1117" y1="96.5" x2="1120" y2="96.5" stroke="#000" stroke-width="1"/>
<line x1="1117" y1="91.5" x2="1120" y2="91.5" stroke="#000" stroke-width="1"/>
<line x1="1117" y1="86.5" x2="1120" y2="86.5" stroke="#000" stroke-width="1"/>
<line x1="1114" y1="81.5" x2="1120" y2="81.5" stroke="#000" stroke-width="1"/>
<text x="1122.5" y="85.0" font-size="11" fill="#000">26000.00</text>
<line x1="1117" y1="76.5" x2="1120" y2="76.5" stroke="#000" stroke-width="1"/>
<line x1="1117" y1="71.5" x2="1120" y2="71.5" stroke="#000" stroke-width="1"/>
<line x1="1117" y1="66.5" x2="1120" y2="66.5" stroke="#000" stroke-width="1"/>
<line x1="1117" y1="61.5" x2="1120" y2="61.5" stroke="#000" stroke-width="1"/>
<line x1="1117" y1="56.5" x2="1120" y2="56.5" stroke="#000" stroke-width="1"/>
<line x1="1117" y1="51.5" x2="1120" y2="51.5" stroke="#000" stroke-width="1"/>
<line x1="1117" y1="46.5" x2="1120" y2="46.5" stroke="#000" stroke-width="1"/>
<line x1="1117" y1="42.5" x2="1120" y2="42.5" stroke="#000" stroke-width="1"/>
<line x1="1117" y1="37.5" x2="1120" y2="37.5" stroke="#000" stroke-width="1"/>
<line x1="1114" y1="32.5" x2="1120" y2="32.5" stroke="#000" stroke-width="1"/>
<text x="1122.5" y="36.0" font-size="11" fill="#000">27000.00</text>
<line x1="1117" y1="27.5" x2="1120" y2="27.5" stroke="#000" stroke-width="1"/>
<line x1="1117" y1="22.5" x2="1120" y2="22.5" stroke="#000" stroke-width="1"/>
<line x1="1117" y1="18.5" x2="1120" y2="18.5" stroke="#000" stroke-width="1"/>
<line x1="1117" y1="13.5" x2="1120" y2="13.5" stroke="#000" stroke-width="1"/>
<line x1="1117" y1="8.5" x2="1120" y2="8.5" stroke="#000" stroke-width="1"/>
<polygon points="1115.5,152.5 1121.5,146.5 1170.5,146.5 1170.5,158.5 1121.5,158.5" fill="#00ff00" stroke="#4a3c3c" stroke-width="1"/>
<text x="1122.6" y="155.9" font-size="11" fill="#000" textLength="44.6" lengthAdjust="spacingAndGlyphs">24618.00</text>
<line x1="104.5" y1="496" x2="104.5" y2="501" stroke="#000" stroke-width="1"/>
<text x="104.5" y="512" font-size="11" text-anchor="middle" fill="#111">Aug-17</text>
<line x1="194.5" y1="496" x2="194.5" y2="501" stroke="#000" stroke-width="1"/>
<text x="194.5" y="512" font-size="11" text-anchor="middle" fill="#111">Aug-24</text>
<line x1="301.5" y1="496" x2="301.5" y2="501" stroke="#000" stroke-width="1"/>
<text x="301.5" y="512" font-size="11" text-anchor="middle" fill="#111">Sep-2020</text>
<line x1="374.5" y1="496" x2="374.5" y2="501" stroke="#000" stroke-width="1"/>
<text x="374.5" y="512" font-size="11" text-anchor="middle" fill="#111">Sep-07</text>
<line x1="463.5" y1="496" x2="463.5" y2="501" stroke="#000" stroke-width="1"/>
<text x="463.5" y="512" font-size="11" text-anchor="middle" fill="#111">Sep-14</text>
<line x1="553.5" y1="496" x2="553.5" y2="501" stroke="#000" stroke-width="1"/>
<text x="553.5" y="512" font-size="11" text-anchor="middle" fill="#111">Sep-21</text>
<line x1="606.5" y1="496" x2="606.5" y2="501" stroke="#000" stroke-width="1"/>
<text x="606.5" y="512" font-size="11" text-anchor="middle" fill="#111">0:00</text>
<line x1="696.5" y1="496" x2="696.5" y2="501" stroke="#000" stroke-width="1"/>
<text x="696.5" y="512" font-size="11" text-anchor="middle" fill="#111">Oct-2020</text>
<line x1="805.5" y1="496" x2="805.5" y2="501" stroke="#000" stroke-width="1"/>
<text x="805.5" y="512" font-size="11" text-anchor="middle" fill="#111">Oct-12</text>
<line x1="889.5" y1="496" x2="889.5" y2="501" stroke="#000" stroke-width="1"/>
<text x="889.5" y="512" font-size="11" text-anchor="middle" fill="#111">Oct-19</text>
<line x1="972.5" y1="496" x2="972.5" y2="501" stroke="#000" stroke-width="1"/>
<text x="972.5" y="512" font-size="11" text-anchor="middle" fill="#111">Oct-23</text>
<line x1="1044.5" y1="496" x2="1044.5" y2="501" stroke="#000" stroke-width="1"/>
<text x="1044.5" y="512" font-size="11" text-anchor="middle" fill="#111">Oct-26</text>
<rect x="0" y="516" width="1172" height="4" fill="#848484"/>
<line x1="1114.5" y1="520" x2="1114.5" y2="570" stroke="#a8a8a0" stroke-width="1"/>
<line x1="1120.5" y1="520" x2="1120.5" y2="570" stroke="#000" stroke-width="1"/>
<text x="7.3" y="535.2" font-size="9.9" fill="#555" textLength="108.3" lengthAdjust="spacingAndGlyphs">MACD(C,EMA,12,26,9)</text>
<rect x="0" y="544.6" width="5" height="4.4" fill="url(#grh)"/>
<rect x="6" y="545.2" width="5" height="3.8" fill="url(#grh)"/>
<rect x="12" y="543.9" width="5" height="5.1" fill="url(#grh)"/>
<rect x="18" y="543.2" width="5" height="5.8" fill="url(#grh)"/>
<rect x="24" y="543.9" width="5" height="5.1" fill="url(#grh)"/>
<rect x="30" y="543.2" width="5" height="5.8" fill="url(#grh)"/>
<rect x="36" y="543.2" width="5" height="5.8" fill="url(#grh)"/>
<rect x="42" y="543.5" width="5" height="5.5" fill="url(#grh)"/>
<rect x="48" y="543.9" width="5" height="5.1" fill="url(#grh)"/>
<rect x="54" y="544.3" width="5" height="4.7" fill="url(#grh)"/>
<rect x="60" y="544.3" width="5" height="4.7" fill="url(#grh)"/>
<rect x="66" y="544.8" width="5" height="4.2" fill="url(#grh)"/>
<rect x="72" y="544.8" width="5" height="4.2" fill="url(#grh)"/>
<rect x="78" y="545.9" width="5" height="3.1" fill="url(#grh)"/>
<rect x="84" y="546.2" width="5" height="2.8" fill="url(#grh)"/>
<rect x="90" y="547.3" width="5" height="1.7" fill="url(#grh)"/>
<rect x="96" y="548" width="5" height="2.3" fill="url(#grh)"/>
<rect x="102" y="548" width="5" height="2.7" fill="url(#grh)"/>
<rect x="108" y="548" width="5" height="4.4" fill="url(#grh)"/>
<rect x="114" y="548" width="5" height="4.4" fill="url(#grh)"/>
<rect x="120" y="548" width="5" height="4.4" fill="url(#grh)"/>
<rect x="126" y="548" width="5" height="3.3" fill="url(#grh)"/>
<rect x="132" y="548" width="5" height="1.7" fill="url(#grh)"/>
<rect x="144" y="547.3" width="5" height="1.7" fill="url(#grh)"/>
<rect x="150" y="545.7" width="5" height="3.3" fill="url(#grh)"/>
<rect x="156" y="546.6" width="5" height="2.4" fill="url(#grh)"/>
<rect x="162" y="546.6" width="5" height="2.4" fill="url(#grh)"/>
<rect x="168" y="546.6" width="5" height="2.4" fill="url(#grh)"/>
<rect x="174" y="546.2" width="5" height="2.8" fill="url(#grh)"/>
<rect x="180" y="545.7" width="5" height="3.3" fill="url(#grh)"/>
<rect x="186" y="545.7" width="5" height="3.3" fill="url(#grh)"/>
<rect x="192" y="545.7" width="5" height="3.3" fill="url(#grh)"/>
<rect x="198" y="545.3" width="5" height="3.7" fill="url(#grh)"/>
<rect x="204" y="544.8" width="5" height="4.2" fill="url(#grh)"/>
<rect x="210" y="544.3" width="5" height="4.7" fill="url(#grh)"/>
<rect x="216" y="542.9" width="5" height="6.1" fill="url(#grh)"/>
<rect x="222" y="541.8" width="5" height="7.2" fill="url(#grh)"/>
<rect x="228" y="541.8" width="5" height="7.2" fill="url(#grh)"/>
<rect x="234" y="543.2" width="5" height="5.8" fill="url(#grh)"/>
<rect x="240" y="543.2" width="5" height="5.8" fill="url(#grh)"/>
<rect x="246" y="543.2" width="5" height="5.8" fill="url(#grh)"/>
<rect x="252" y="542.9" width="5" height="6.1" fill="url(#grh)"/>
<rect x="258" y="544.3" width="5" height="4.7" fill="url(#grh)"/>
<rect x="264" y="544.3" width="5" height="4.7" fill="url(#grh)"/>
<rect x="270" y="543.2" width="5" height="5.8" fill="url(#grh)"/>
<rect x="276" y="542.1" width="5" height="6.9" fill="url(#grh)"/>
<rect x="282" y="541.2" width="5" height="7.8" fill="url(#grh)"/>
<rect x="288" y="544.3" width="5" height="4.7" fill="url(#grh)"/>
<rect x="294" y="545.7" width="5" height="3.3" fill="url(#grh)"/>
<rect x="300" y="546.6" width="5" height="2.4" fill="url(#grh)"/>
<rect x="306" y="548" width="5" height="1.9" fill="url(#grh)"/>
<rect x="312" y="548" width="5" height="3.3" fill="url(#grh)"/>
<rect x="318" y="548" width="5" height="4.7" fill="url(#grh)"/>
<rect x="324" y="548" width="5" height="6.4" fill="url(#grh)"/>
<rect x="330" y="548" width="5" height="5.8" fill="url(#grh)"/>
<rect x="336" y="548" width="5" height="5.8" fill="url(#grh)"/>
<rect x="342" y="548" width="5" height="5.8" fill="url(#grh)"/>
<rect x="348" y="548" width="5" height="5.8" fill="url(#grh)"/>
<rect x="354" y="548" width="5" height="7.8" fill="url(#grh)"/>
<rect x="360" y="548" width="5" height="7.8" fill="url(#grh)"/>
<rect x="366" y="548" width="5" height="7.8" fill="url(#grh)"/>
<rect x="372" y="548" width="5" height="7.8" fill="url(#grh)"/>
<rect x="378" y="548" width="5" height="7.8" fill="url(#grh)"/>
<rect x="384" y="548" width="5" height="7.8" fill="url(#grh)"/>
<rect x="390" y="548" width="5" height="6.4" fill="url(#grh)"/>
<rect x="396" y="548" width="5" height="5.1" fill="url(#grh)"/>
<rect x="402" y="548" width="5" height="5.1" fill="url(#grh)"/>
<rect x="408" y="548" width="5" height="5.1" fill="url(#grh)"/>
<rect x="414" y="548" width="5" height="5.8" fill="url(#grh)"/>
<rect x="420" y="548" width="5" height="5.8" fill="url(#grh)"/>
<rect x="426" y="548" width="5" height="5.1" fill="url(#grh)"/>
<rect x="432" y="548" width="5" height="4.7" fill="url(#grh)"/>
<rect x="438" y="548" width="5" height="3.3" fill="url(#grh)"/>
<rect x="444" y="548" width="5" height="2.8" fill="url(#grh)"/>
<rect x="450" y="548" width="5" height="1.9" fill="url(#grh)"/>
<rect x="462" y="546.6" width="5" height="2.4" fill="url(#grh)"/>
<rect x="468" y="546.6" width="5" height="2.4" fill="url(#grh)"/>
<rect x="492" y="546.6" width="5" height="2.4" fill="url(#grh)"/>
<rect x="498" y="546.6" width="5" height="2.4" fill="url(#grh)"/>
<rect x="504" y="546.6" width="5" height="2.4" fill="url(#grh)"/>
<rect x="510" y="545.3" width="5" height="3.7" fill="url(#grh)"/>
<rect x="516" y="545.3" width="5" height="3.7" fill="url(#grh)"/>
<rect x="522" y="545.3" width="5" height="3.7" fill="url(#grh)"/>
<rect x="528" y="545.3" width="5" height="3.7" fill="url(#grh)"/>
<rect x="534" y="545.3" width="5" height="3.7" fill="url(#grh)"/>
<rect x="540" y="546.6" width="5" height="2.4" fill="url(#grh)"/>
<rect x="546" y="547.3" width="5" height="1.7" fill="url(#grh)"/>
<rect x="552" y="547.3" width="5" height="1.7" fill="url(#grh)"/>
<rect x="558" y="548" width="5" height="1.4" fill="url(#grh)"/>
<rect x="564" y="548" width="5" height="2.8" fill="url(#grh)"/>
<rect x="570" y="548" width="5" height="5.8" fill="url(#grh)"/>
<rect x="576" y="548" width="5" height="5.8" fill="url(#grh)"/>
<rect x="582" y="548" width="5" height="5.8" fill="url(#grh)"/>
<rect x="588" y="548" width="5" height="5.8" fill="url(#grh)"/>
<rect x="594" y="548" width="5" height="5.1" fill="url(#grh)"/>
<rect x="600" y="548" width="5" height="3.3" fill="url(#grh)"/>
<rect x="606" y="548" width="5" height="3.3" fill="url(#grh)"/>
<rect x="612" y="548" width="5" height="3.3" fill="url(#grh)"/>
<rect x="618" y="548" width="5" height="3.3" fill="url(#grh)"/>
<rect x="624" y="548" width="5" height="3.3" fill="url(#grh)"/>
<rect x="630" y="548" width="5" height="2.4" fill="url(#grh)"/>
<rect x="636" y="548" width="5" height="1.7" fill="url(#grh)"/>
<rect x="642" y="546.6" width="5" height="2.4" fill="url(#grh)"/>
<rect x="648" y="543.2" width="5" height="5.8" fill="url(#grh)"/>
<rect x="654" y="541.2" width="5" height="7.8" fill="url(#grh)"/>
<rect x="660" y="539.1" width="5" height="9.9" fill="url(#grh)"/>
<rect x="666" y="540.2" width="5" height="8.8" fill="url(#grh)"/>
<rect x="672" y="540.2" width="5" height="8.8" fill="url(#grh)"/>
<rect x="678" y="542.1" width="5" height="6.9" fill="url(#grh)"/>
<rect x="684" y="543.2" width="5" height="5.8" fill="url(#grh)"/>
<rect x="690" y="544.3" width="5" height="4.7" fill="url(#grh)"/>
<rect x="696" y="543.2" width="5" height="5.8" fill="url(#grh)"/>
<rect x="702" y="542.1" width="5" height="6.9" fill="url(#grh)"/>
<rect x="708" y="541.2" width="5" height="7.8" fill="url(#grh)"/>
<rect x="714" y="539.1" width="5" height="9.9" fill="url(#grh)"/>
<rect x="720" y="539.1" width="5" height="9.9" fill="url(#grh)"/>
<rect x="726" y="540.2" width="5" height="8.8" fill="url(#grh)"/>
<rect x="732" y="540.2" width="5" height="8.8" fill="url(#grh)"/>
<rect x="738" y="540.2" width="5" height="8.8" fill="url(#grh)"/>
<rect x="744" y="542.1" width="5" height="6.9" fill="url(#grh)"/>
<rect x="750" y="542.1" width="5" height="6.9" fill="url(#grh)"/>
<rect x="756" y="542.1" width="5" height="6.9" fill="url(#grh)"/>
<rect x="762" y="543.2" width="5" height="5.8" fill="url(#grh)"/>
<rect x="768" y="543.2" width="5" height="5.8" fill="url(#grh)"/>
<rect x="774" y="543.2" width="5" height="5.8" fill="url(#grh)"/>
<rect x="780" y="543.2" width="5" height="5.8" fill="url(#grh)"/>
<rect x="786" y="544.3" width="5" height="4.7" fill="url(#grh)"/>
<rect x="792" y="544.3" width="5" height="4.7" fill="url(#grh)"/>
<rect x="798" y="543.2" width="5" height="5.8" fill="url(#grh)"/>
<rect x="804" y="542.1" width="5" height="6.9" fill="url(#grh)"/>
<rect x="810" y="544.3" width="5" height="4.7" fill="url(#grh)"/>
<rect x="816" y="545.3" width="5" height="3.7" fill="url(#grh)"/>
<rect x="822" y="547.0" width="5" height="2.0" fill="url(#grh)"/>
<rect x="834" y="548" width="5" height="2.4" fill="url(#grh)"/>
<rect x="840" y="548" width="5" height="3.7" fill="url(#grh)"/>
<rect x="846" y="548" width="5" height="2.8" fill="url(#grh)"/>
<rect x="852" y="548" width="5" height="2.8" fill="url(#grh)"/>
<rect x="858" y="548" width="5" height="2.8" fill="url(#grh)"/>
<rect x="864" y="548" width="5" height="4.1" fill="url(#grh)"/>
<rect x="870" y="548" width="5" height="5.1" fill="url(#grh)"/>
<rect x="876" y="548" width="5" height="4.1" fill="url(#grh)"/>
<rect x="882" y="548" width="5" height="3.3" fill="url(#grh)"/>
<rect x="888" y="548" width="5" height="2.4" fill="url(#grh)"/>
<rect x="894" y="548" width="5" height="1.4" fill="url(#grh)"/>
<rect x="900" y="546.2" width="5" height="2.8" fill="url(#grh)"/>
<rect x="906" y="545.3" width="5" height="3.7" fill="url(#grh)"/>
<rect x="912" y="545.3" width="5" height="3.7" fill="url(#grh)"/>
<rect x="918" y="545.3" width="5" height="3.7" fill="url(#grh)"/>
<rect x="924" y="544.3" width="5" height="4.7" fill="url(#grh)"/>
<rect x="930" y="544.3" width="5" height="4.7" fill="url(#grh)"/>
<rect x="936" y="544.3" width="5" height="4.7" fill="url(#grh)"/>
<rect x="942" y="546.0" width="5" height="3.0" fill="url(#grh)"/>
<line x1="0" y1="548.5" x2="1114" y2="548.5" stroke="#111" stroke-width="1" stroke-dasharray="3.5,2.5"/>
<polyline points="1.0,554.4 27.3,550.0 47.8,547.0 68.3,545.2 81.9,543.5 95.6,543.2 116.0,544.3 136.5,546.2 150.0,546.6 191.0,545.3 204.6,544.6 225.0,541.2 242.8,537.7 248.3,535.7 266.0,533.0 293.3,528.5 321.8,528.5 332.8,529.6 350.5,533.7 368.3,538.4 384.6,542.9 403.8,548.0 422.9,552.5 443.3,556.2 452.9,558.0 477.3,557.1 504.6,556.6 531.9,555.2 552.4,554.1 572.9,554.1 610.0,560.3 620.5,562.3 634.1,564.4 650.5,564.4 675.1,560.3 695.6,554.8 716.0,550.0 729.7,546.6 743.3,542.5 763.7,537.1 784.1,532.6 804.6,529.8 821.0,527.9 848.3,528.2 872.9,533.0 890.9,535.3 907.3,534.7 925.0,535.3 938.7,533.0" fill="none" stroke="#8b1010" stroke-width="1.2"/>
<polyline points="1.0,551.1 13.7,548.7 27.3,545.9 41.0,544.6 54.6,543.5 68.3,542.1 88.7,542.1 95.6,542.5 109.2,547.0 122.9,548.0 136.5,545.9 150.2,544.3 163.7,545.7 170.5,546.0 181.4,544.6 192.3,543.5 201.9,541.2 211.4,538.4 225.0,535.7 238.7,533.4 255.1,531.2 266.0,530.2 275.6,526.8 284.5,524.4 294.7,527.9 313.7,529.8 327.3,534.3 349.1,538.4 361.4,543.2 375.1,548.0 395.6,550.7 405.1,552.8 416.0,556.2 429.7,558.6 443.3,558.2 466.4,556.2 477.3,557.1 491.0,557.1 504.6,555.8 525.1,553.0 545.6,553.0 559.2,554.8 572.9,559.6 586.5,561.6 596.1,563.4 601.5,562.3 610.0,563.7 620.5,566.4 634.1,566.1 643.7,563.7 660.1,556.2 673.7,553.4 688.7,553.0 702.4,549.4 716.0,542.5 729.7,540.5 736.5,538.4 746.1,535.7 763.7,533.0 782.8,529.8 793.7,529.3 806.0,525.5 815.5,526.1 823.7,527.1 837.4,532.0 845.6,532.6 856.5,533.0 872.9,537.5 890.6,537.5 900.5,534.3 921.0,533.0 926.4,531.2 938.7,531.2" fill="none" stroke="#111" stroke-width="1.8"/>
<line x1="1114" y1="548.5" x2="1120" y2="548.5" stroke="#000" stroke-width="1"/>
<line x1="1117" y1="538.5" x2="1120" y2="538.5" stroke="#000" stroke-width="1"/>
<text x="1123" y="552" font-size="11" fill="#111">0</text>
<text x="1122.6" y="532" font-size="11" fill="#000">500</text>
<path d="M1115.5,531.5 L1121.5,525.5 L1141.5,525.5 Q1143.5,525.5 1143.5,527.5 L1143.5,535.5 Q1143.5,537.5 1141.5,537.5 L1121.5,537.5 Z" fill="#fff" stroke="#000" stroke-width="1"/>
<text x="1123" y="535.5" font-size="11" fill="#000">410</text>
<rect x="1073" y="558" width="95" height="11" fill="#f9f6ef"/>
<text x="1073.8" y="567" font-size="9.6" font-weight="bold" fill="#404040" textLength="93.3" lengthAdjust="spacing">motivewave.com</text>
<rect x="0" y="0" width="1172" height="1" fill="#000"/>
<rect x="0" y="0" width="1" height="571" fill="#000"/>
<rect x="1171" y="0" width="1" height="571" fill="#000"/>
<rect x="0" y="570" width="1172" height="1" fill="#000"/>
</svg></body></html>
